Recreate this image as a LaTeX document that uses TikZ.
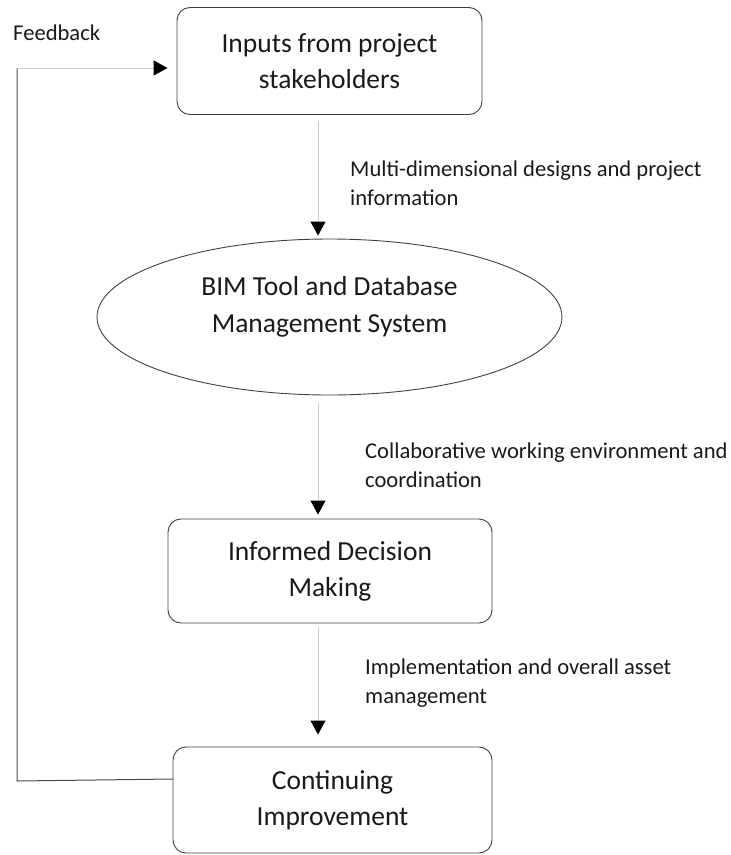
\documentclass[tikz,border=0pt]{standalone}
\usepackage{fontspec}
\setmainfont{Carlito}
\usetikzlibrary{arrows.meta,shapes.geometric}
\definecolor{txt}{HTML}{1A1A1A}
\begin{document}
\begin{tikzpicture}[x=1pt,y=-1pt,
  box/.style={draw=black!75,line width=0.9pt,rounded corners=13pt,align=center,text=txt,
    font=\fontsize{27.5}{36}\selectfont,inner sep=0pt},
  lbl/.style={anchor=base west,align=left,text=txt,font=\fontsize{22.6}{28.5}\selectfont,inner sep=0pt},
  arr/.style={draw=black!20,line width=1pt,-{Triangle[width=15pt,length=14pt,color=black]}}]
\useasboundingbox (0,0) rectangle (731,855);
\node[box,minimum width=305pt,minimum height=107pt] (b1) at (329.5,61) {Inputs from project\\stakeholders};
\node[draw=black!75,line width=0.9pt,ellipse,minimum width=465pt,minimum height=156pt,inner sep=0pt,text=txt,
  align=center,font=\fontsize{27.5}{37}\selectfont] (ell) at (329.5,317) {BIM Tool and Database\\Management System\\[-12pt]\mbox{}};
\node[box,minimum width=324pt,minimum height=104pt] (b2) at (330,571) {Informed Decision\\Making};
\node[box,minimum width=319pt,minimum height=106pt] (b3) at (332.5,800) {Continuing\\Improvement};
\coordinate (ax) at (318,0);
\draw[arr,shorten <=6pt,shorten >=3pt] (b1.south -| ax) -- (ell.north -| ax);
\draw[arr,shorten <=8pt,shorten >=4pt] (ell.south -| ax) -- (b2.north -| ax);
\draw[arr,shorten <=4pt,shorten >=12pt] (b2.south -| ax) -- (b3.north -| ax);
\node[lbl] (l1) at (350,205) {Multi-dimensional designs and project\\information};
\node[lbl] (l2) at (365,487) {Collaborative working environment and\\coordination};
\node[lbl] (l3) at (365,703) {Implementation and overall asset\\management};
\node[lbl] (fb) at (13,40) {Feedback};
\coordinate (fbot) at (17,781);
\coordinate (ftop) at (17,68);
\coordinate (b3w) at (173,779);
\draw[black!70,line width=1pt] (b3w) -- (fbot) -- (ftop);
\draw[arr,shorten >=9pt] (ftop) -- (b1.west |- ftop);
\end{tikzpicture}
\end{document}
